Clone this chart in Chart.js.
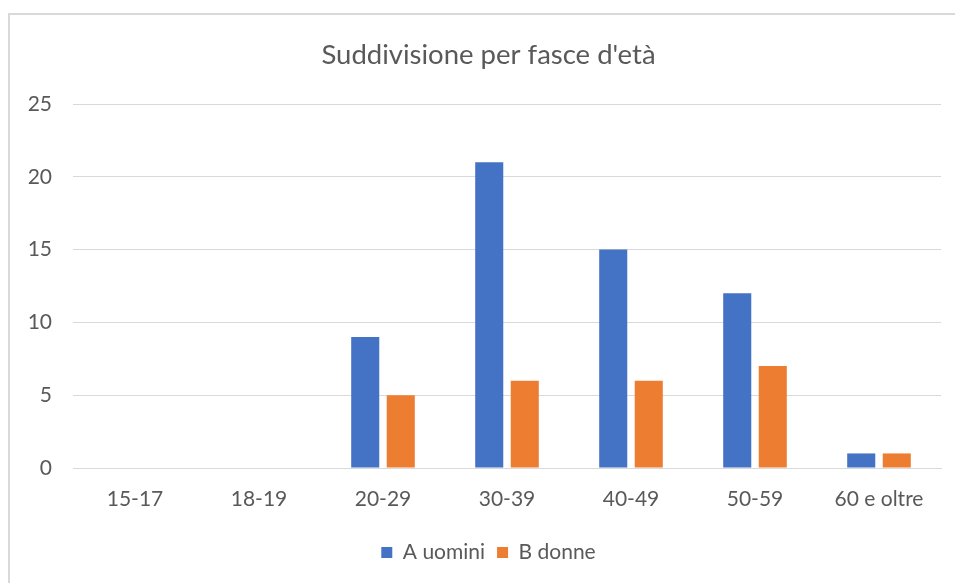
<!DOCTYPE html>
<html>
<head>
<meta charset="utf-8">
<script src="https://cdn.jsdelivr.net/npm/chart.js@4/dist/chart.umd.min.js"></script>
<style>
  html, body { margin: 0; padding: 0; background: #fff; overflow: hidden; }
  #wrap { position: relative; width: 955px; height: 583px; }
  #frame { position: absolute; left: 8px; top: 13px; width: 1100px; height: 1100px; border: 2px solid #d9d9d9; box-sizing: border-box; pointer-events: none; }
  canvas { position: absolute; left: 0; top: 0; }
</style>
</head>
<body>
<div id="wrap">
  <div id="frame"></div>
  <canvas id="c" width="955" height="583"></canvas>
</div>
<script>
const categories = ["15-17", "18-19", "20-29", "30-39", "40-49", "50-59", "60 e oltre"];
const seriesNames = ["A uomini", "B donne"];
const uomini = [0, 0, 9, 21, 15, 12, 1];
const donne = [0, 0, 5, 6, 6, 7, 1];
const yTicks = [0, 5, 10, 15, 20, 25];
const titleText = "Suddivisione per fasce d'età";

const textColor = "#595959";
const fontFamily = "Lato, 'Open Sans', sans-serif";

// shift title and legend so they centre like the original frame
const shiftBlocks = {
  id: "shiftBlocks",
  afterLayout(chart) {
    if (chart.titleBlock) chart.titleBlock.left = 36;
    if (chart.legend) chart.legend.left = 36;
  }
};

new Chart(document.getElementById("c"), {
  type: "bar",
  data: {
    labels: categories,
    datasets: [
      { label: seriesNames[0], data: uomini, backgroundColor: "#4472C4", categoryPercentage: 0.573, barPercentage: 0.79 },
      { label: seriesNames[1], data: donne, backgroundColor: "#ED7D31", categoryPercentage: 0.573, barPercentage: 0.79 }
    ]
  },
  plugins: [shiftBlocks],
  options: {
    responsive: false,
    animation: false,
    devicePixelRatio: 1,
    layout: { padding: { left: 0, right: 14, top: 0, bottom: 10 } },
    plugins: {
      title: {
        display: true,
        text: titleText,
        color: textColor,
        font: { family: fontFamily, size: 27.5, weight: "normal" },
        padding: { top: 39, bottom: 32 }
      },
      legend: {
        position: "bottom",
        labels: {
          color: textColor,
          font: { family: fontFamily, size: 21 },
          boxWidth: 11,
          boxHeight: 11,
          padding: 12
        }
      },
      tooltip: { enabled: false }
    },
    scales: {
      x: {
        grid: { display: false, drawTicks: false },
        border: { display: true, color: "#d9d9d9", width: 1 },
        ticks: { color: textColor, font: { family: fontFamily, size: 21 }, padding: 19, maxRotation: 0 },
        afterFit: (s) => { s.height = 62; }
      },
      y: {
        min: 0,
        max: 25,
        afterBuildTicks: (s) => { s.ticks = yTicks.map(v => ({ value: v })); },
        grid: { color: "#d9d9d9", lineWidth: 1, drawTicks: false },
        border: { display: false },
        ticks: { color: textColor, font: { family: fontFamily, size: 21 }, padding: 21 },
        afterFit: (s) => { s.width = 73; }
      }
    }
  }
});
</script>
</body>
</html>
